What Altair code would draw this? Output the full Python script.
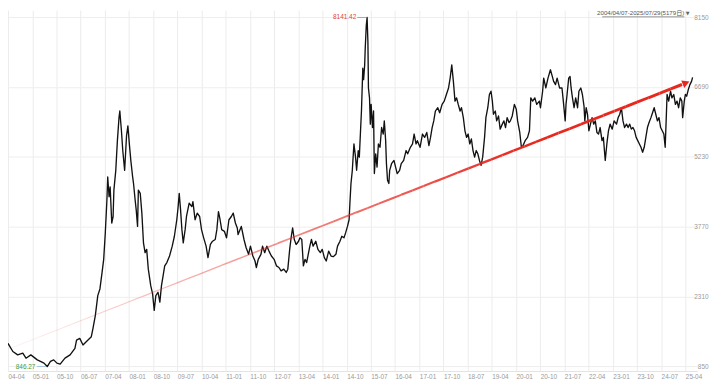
import altair as alt
import pandas as pd

# ---------------- data (months since 2004-04, index value) ----------------
m_2004 = [0.0, 1.8, 3.6, 5.5, 6.7, 8.5, 10.9, 13.4, 14.6, 15.8, 17.0, 18.2, 19.4, 21.2, 23.1,
          24.9, 25.5, 26.7, 27.9, 29.1, 31.0, 31.6, 32.5, 33.4, 34.2, 35.0, 35.6, 36.2, 36.8,
          37.1, 37.6, 38.0, 38.6, 39.1, 39.4, 40.1, 40.7, 41.3, 41.6, 42.2, 42.7, 43.4,
          44.1, 44.6, 45.2, 45.7, 46.3]
v_2004 = [1331, 1160, 1090, 1125, 1021, 1090, 986, 918, 846.27, 953, 986, 918, 897, 1021, 1090,
          1228, 1399, 1435, 1296, 1366, 1470, 1641, 1916, 2329, 2468, 2813, 3087, 3639, 4327,
          4808, 4395, 4602, 3846, 3982, 4534, 4947, 5567, 6048, 6186, 5773, 5360, 4947,
          5670, 5876, 5463, 5153, 4843]

m_2008 = [46.7, 47.3, 47.7, 48.2, 48.5, 49.2, 49.8, 50.4, 51.0, 51.6, 52.2, 53.1, 53.8, 54.4,
          55.0, 55.8, 56.5, 57.1, 57.7, 58.3, 59.1, 60.1, 61.1, 61.9, 62.8, 63.3, 63.7, 64.2,
          64.7, 65.2, 65.9, 66.4, 67.4, 68.4, 68.8, 69.6, 70.4, 71.3, 72.0, 72.8, 73.7, 74.4,
          75.3, 76.1, 77.1, 77.7, 78.3, 78.9, 79.5, 80.5, 81.3, 82.2, 83.1, 83.8, 84.6, 85.3]
v_2008 = [4672, 4327, 4120, 3775, 4534, 4465, 4052, 3432, 3226, 3294, 2881, 2536, 2364, 2019,
          2329, 2399, 2193, 2536, 2742, 2949, 3019, 3156, 3362, 3569, 3914, 4189, 4465, 4120,
          3707, 3432, 3707, 3982, 4259, 4189, 4292, 3914, 4052, 3982, 3707, 3536, 3362, 3123,
          3397, 3465, 3501, 3707, 4085, 3914, 3707, 3672, 3536, 3914, 3982, 4052, 3846, 3742]

m_2011 = [85.6, 86.8, 87.8, 88.6, 89.5, 90.2, 91.1, 91.9, 92.4, 93.1, 94.1, 94.7, 95.5, 96.3,
          97.1, 98.0, 99.0, 99.9, 100.8, 101.6, 102.6, 103.5, 104.1, 104.8, 105.4, 105.9, 106.5,
          107.2, 108.1, 108.6, 109.3, 109.9, 110.5, 111.1, 111.7, 112.3, 112.9, 113.5, 114.5,
          115.3, 116.2, 116.9, 117.7, 118.4, 119.3, 120.2, 121.0, 122.0, 122.6, 123.5, 124.2,
          125.0, 125.6, 126.3, 126.9, 127.2, 127.6, 128.1]
v_2011 = [3604, 3775, 3501, 3329, 3191, 3362, 3156, 3052, 2916, 3087, 3191, 3362, 3226, 3362,
          3259, 3156, 3087, 2949, 2916, 2846, 2881, 2813, 2881, 3294, 3569, 3742, 3501,
          3397, 3465, 3536, 3501, 2949, 3087, 3019, 3191, 3362, 3501, 3362, 3465,
          3294, 3226, 3294, 3123, 3052, 3259, 3156, 3143, 3191, 3362, 3465, 3569,
          3536, 3639, 3775, 3914, 4259, 4672, 4947]

m_2015 = [128.7, 129.3, 129.7, 130.3, 130.7, 131.1, 131.5, 132.0, 132.3, 132.7, 132.9, 133.3,
          133.6, 133.9, 134.1, 134.5, 134.8, 135.1, 135.6, 136.0, 136.3, 136.8, 137.3, 137.8,
          138.4, 139.0, 139.6, 140.0, 140.5, 140.8, 141.2, 141.7, 142.0, 142.7, 143.6, 144.2,
          144.8, 145.7, 146.3, 147.2, 148.1, 148.7, 149.7, 150.5, 151.1, 151.8, 152.3, 153.3,
          154.2, 155.0, 155.8, 156.6, 157.2, 157.8, 158.4, 159.0, 159.9, 160.6, 161.5, 162.3,
          163.1, 163.9, 164.5, 165.1, 165.7, 166.3, 166.9, 167.5, 168.2, 168.7, 169.4]
v_2015 = [5498, 5222, 4947, 5360, 5222, 5705, 6186, 7081, 6841, 7151, 7494, 7978,
          8141.42, 7633, 6668, 6461, 5912, 6325, 5841, 6186, 4879, 5292, 5015, 5498,
          5428, 5841, 5705, 5980, 5567, 5085, 4740, 4672, 4947, 5085, 5153, 5015,
          4879, 4947, 5085, 5153, 5360, 5292, 5428, 5498, 5705, 5498, 5567, 5428,
          5705, 5635, 5738, 5463, 5635, 5841, 5980, 6186, 6255, 6151, 6325, 6393,
          6531, 6668, 6874, 7151, 6806, 6393, 6461, 6325, 6186, 6255, 6048]

m_2018 = [170.0, 170.6, 171.2, 171.8, 172.4, 173.0, 173.6, 174.2, 174.8, 175.4, 176.0, 176.6,
          177.3, 177.8, 178.5, 179.1, 179.7, 180.2, 180.6, 181.3, 181.8, 182.5, 183.1, 183.9,
          184.5, 185.1, 185.7, 186.4, 186.9, 187.6, 188.4, 189.1, 189.6, 190.4, 191.0, 191.6,
          192.4, 193.3, 194.0, 194.5, 195.2, 196.0, 196.7, 197.7, 198.1, 198.9, 199.3, 200.1,
          200.9, 201.8, 202.5, 203.0, 203.7, 204.3, 205.2, 206.1, 206.6, 207.3, 207.6, 208.0,
          208.6, 209.1, 209.5, 210.0, 210.6, 211.2, 211.9, 212.4, 213.1, 213.7, 214.3, 214.6]
v_2018 = [5773, 5635, 5705, 5498, 5602, 5360, 5222, 5360, 5292, 5153, 5050, 5222,
          5635, 6048, 6255, 6531, 6600, 6393, 6118, 6186, 5980, 6083, 5808, 5912,
          5980, 5841, 6048, 5945, 5980, 6083, 6325, 6221, 5980, 5738, 5428, 5463,
          5567, 5635, 5773, 6461, 6393, 6461, 6325, 6393, 6255, 6600, 6874, 6668,
          6874, 7048, 6909, 6806, 6738, 6874, 6668, 6668, 6393, 5980, 6325, 6531,
          6874, 6909, 6668, 6461, 6255, 6461, 6255, 6600, 6668, 6531, 6290, 5980]

m_2022 = [215.1, 215.6, 216.1, 216.7, 217.3, 217.9, 218.5, 219.1, 219.7, 220.3, 221.0, 221.5,
          222.2, 222.8, 223.4, 224.0, 224.8, 225.5, 226.4, 227.0, 227.6, 228.2, 228.8, 229.4,
          230.1, 230.7, 231.3, 231.9, 232.5, 233.1, 233.7, 234.3, 234.9, 235.5, 236.1, 236.7,
          237.3, 237.9, 238.5, 239.2, 239.8, 240.4, 241.0, 241.6, 242.2, 242.8, 243.4, 244.0,
          244.5, 244.9, 245.2, 245.8, 246.5, 247.0, 247.7, 248.3, 248.9, 249.5, 250.1, 250.7,
          251.0, 251.6, 252.0, 252.5, 253.1, 253.7, 254.3, 254.7]
v_2022 = [6255, 6118, 5773, 5912, 6048, 5912, 5980, 5738, 5705, 5841, 5567, 5635,
          5153, 5498, 5773, 5912, 5808, 5980, 5912, 6048, 6118, 6255, 5980, 5841,
          5912, 5841, 5912, 5808, 5841, 5773, 5635, 5567, 5498, 5428, 5325, 5428,
          5635, 5841, 5945, 6048, 6151, 6255, 6118, 5980, 6048, 5841, 5773, 5705,
          5428, 6048, 6531, 6393, 6600, 6461, 6531, 6325, 6393, 6255, 6461, 6393,
          6048, 6393, 6531, 6496, 6635, 6738, 6806, 6889]

# trend arrow: start / tip (months, value)
trend_months = [0.0, 253.8]
trend_values = [1207, 6807]

x_tick_labels = ["04-04", "05-01", "05-10", "06-07", "07-04", "08-01", "08-10", "09-07",
                 "10-04", "11-01", "11-10", "12-07", "13-04", "14-01", "14-10", "15-07",
                 "16-04", "17-01", "17-10", "18-07", "19-04", "20-01", "20-10", "21-07",
                 "22-04", "23-01", "23-10", "24-07", "25-04"]
y_ticks = [850, 2310, 3770, 5230, 6690, 8150]
range_text = "2004/04/07-2025/07/29(5179日)"

# ---------------- build tables ----------------
START = pd.Timestamp("2004-04-01")


def to_date(m):
    return START + pd.Timedelta(days=m * 30.4375)


pairs = []
for ms, vs in [(m_2004, v_2004), (m_2008, v_2008), (m_2011, v_2011),
               (m_2015, v_2015), (m_2018, v_2018), (m_2022, v_2022)]:
    pairs.extend(zip(ms, vs))
df = pd.DataFrame({"date": [to_date(m) for m, _ in pairs],
                   "value": [v for _, v in pairs]})

imax = df["value"].idxmax()
imin = df["value"].idxmin()
df_max = pd.DataFrame({"date": [df.loc[imax, "date"]], "value": [df.loc[imax, "value"]],
                       "label": [f"{df.loc[imax, 'value']:.2f}"]})
df_min = pd.DataFrame({"date": [df.loc[imin, "date"]], "value": [df.loc[imin, "value"]],
                       "label": [f"{df.loc[imin, 'value']:.2f}"]})

# gradient trend line split into segments
N = 60
m0, m1 = trend_months
v0, v1 = trend_values
body_frac = 0.988
rows = []
for i in range(N):
    t0 = body_frac * i / N
    t1 = body_frac * (i + 1) / N
    tm = (t0 + t1) / 2
    rows.append({
        "date": to_date(m0 + (m1 - m0) * t0), "date2": to_date(m0 + (m1 - m0) * t1),
        "value": v0 + (v1 - v0) * t0, "value2": v0 + (v1 - v0) * t1,
        "op": min(1.0, 0.08 + 1.25 * tm ** 1.1), "sw": 0.7 + 2.4 * tm,
    })
df_trend = pd.DataFrame(rows)
ta = 0.994
df_arrow = pd.DataFrame({"date": [to_date(m0 + (m1 - m0) * ta)],
                         "value": [v0 + (v1 - v0) * ta]})

# ---------------- scales / axes ----------------
x_tick_dates = [alt.DateTime(year=2000 + int(s[:2]), month=int(s[3:]), date=1)
                for s in x_tick_labels]
xs = alt.Scale(domain=[alt.DateTime(year=2004, month=4, date=1),
                       alt.DateTime(year=2025, month=8, date=13)])
ys = alt.Scale(domain=[753, 8295], nice=False, zero=False)

FONT = "Liberation Sans"
x_axis = alt.Axis(values=x_tick_dates, format="%y-%m", labelAlign="left",
                  labelBaseline="top", labelPadding=3, labelFontSize=6.5,
                  labelColor="#9a9a9a", labelFont=FONT, ticks=False, domain=True,
                  domainColor="#e3e3e3", grid=True, gridColor="#ececec", gridWidth=1,
                  title=None, labelOverlap=False, labelFlush=False)
y_axis = alt.Axis(orient="right", values=y_ticks, format="d", labelAlign="right",
                  labelBaseline="middle", labelPadding=11, labelFontSize=6.5,
                  labelColor="#9a9a9a", labelFont=FONT, ticks=False, domain=False,
                  grid=True, gridColor="#eeeeee", gridWidth=1, title=None, labelFlush=False)


def X(f):
    return alt.X(f, type="temporal", scale=xs, axis=x_axis)


def Y(f):
    return alt.Y(f, type="quantitative", scale=ys, axis=y_axis)


line = alt.Chart(df).mark_line(color="#111111", strokeWidth=1.35, strokeJoin="round").encode(
    x=X("date"), y=Y("value"))

trend = alt.Chart(df_trend).mark_rule(color="#e8281f", strokeCap="butt").encode(
    x=X("date"), x2="date2", y=Y("value"), y2="value2",
    opacity=alt.Opacity("op:Q", scale=None), strokeWidth=alt.StrokeWidth("sw:Q", scale=None))

arrow = alt.Chart(df_arrow).mark_point(shape="triangle-right", filled=True, size=70,
                                       angle=338.5, color="#e8281f", opacity=1).encode(
    x=X("date"), y=Y("value"))

max_tick = alt.Chart(df_max).mark_tick(orient="horizontal", size=10, thickness=1,
                                       xOffset=-5, color="#5f98a8").encode(
    x=X("date"), y=Y("value"))
max_text = alt.Chart(df_max).mark_text(align="right", baseline="middle", dx=-11, fontSize=6.5,
                                       font=FONT, color="#e04338").encode(
    x=X("date"), y=Y("value"), text="label:N")
min_tick = alt.Chart(df_min).mark_tick(orient="horizontal", size=9, thickness=1,
                                       xOffset=-6, color="#8ab4d8").encode(
    x=X("date"), y=Y("value"))
min_text = alt.Chart(df_min).mark_text(align="right", baseline="middle", dx=-12, fontSize=6.5,
                                       font=FONT, color="#3f9a3f").encode(
    x=X("date"), y=Y("value"), text="label:N")

# range caption at the top right (kept clear of the 8150 axis label)
title_txt = alt.Chart(pd.DataFrame({"t": [range_text]})).mark_text(
    align="right", baseline="middle", fontSize=6.2, font=FONT + ", Noto Sans CJK SC",
    color="#555555").encode(x=alt.value(684), y=alt.value(3), text="t:N")
title_arrow = alt.Chart(pd.DataFrame({"t": ["▼"]})).mark_text(
    align="left", baseline="middle", fontSize=5, font="DejaVu Sans",
    color="#666666").encode(x=alt.value(685.5), y=alt.value(3), text="t:N")
underline = alt.Chart(pd.DataFrame({"a": [0]})).mark_rule(color="#666666", strokeWidth=0.7).encode(
    x=alt.value(601), x2=alt.value(684), y=alt.value(6.8))

chart = alt.layer(
    line, trend, arrow, max_tick, max_text, min_tick, min_text, title_txt, title_arrow, underline
).properties(
    width=697, height=365,
    autosize=alt.AutoSizeParams(type="none"),
    padding={"left": 0, "top": 0, "right": 14, "bottom": 10},
    background="white",
).configure_view(strokeWidth=0)

chart.save("out.html", embed_options={"renderer": "svg", "actions": False})
